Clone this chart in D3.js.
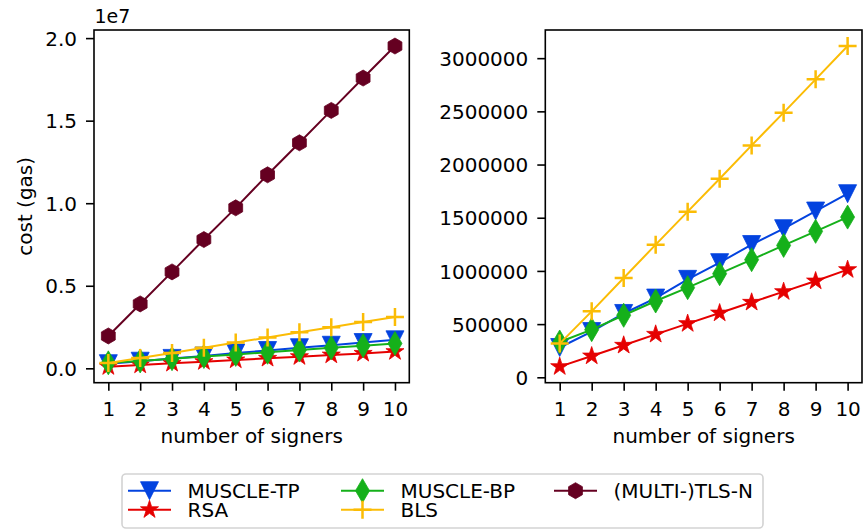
<!DOCTYPE html>
<meta charset="utf-8">
<style>
  body { margin: 0; background: #fff; }
  text { font-family: "DejaVu Sans", sans-serif; }
</style>
<svg width="865" height="529"></svg>

<script src="https://d3js.org/d3.v7.min.js"></script>
<script>

// number of signers on the x axis
var signers = [1, 2, 3, 4, 5, 6, 7, 8, 9, 10]

// gas cost per scheme
var muscleTP = [280000, 430000, 600000, 745000, 921000, 1078000, 1248000, 1397000, 1563000, 1726000]
var rsa = [100000, 200000, 301000, 404000, 505000, 604000, 705000, 805000, 905000, 1012000]
var muscleBP = [332000, 448000, 583000, 717000, 843000, 974000, 1106000, 1240000, 1372000, 1506000]
var bls = [317000, 620000, 933000, 1247000, 1557000, 1867000, 2180000, 2488000, 2801000, 3114000]
var tlsN = [1960000, 3900000, 5840000, 7800000, 9720000, 11720000, 13660000, 15620000, 17580000, 19520000]

var seriesNames = ['MUSCLE-TP', 'RSA', 'MUSCLE-BP', 'BLS', '(MULTI-)TLS-N']

var leftTicks = [0, 5000000, 10000000, 15000000, 20000000]
var rightTicks = [0, 500000, 1000000, 1500000, 2000000, 2500000, 3000000]

// marker shapes, centred on 0,0
function starPath(r) {
  var pts = []
  for (var i = 0; i < 10; i++) {
    var rr = i % 2 === 0 ? r : r * 0.382
    var a = -Math.PI / 2 + i * Math.PI / 5
    pts.push([rr * Math.cos(a), rr * Math.sin(a)])
  }
  return 'M' + pts.map(function (p) { return p[0].toFixed(2) + ',' + p[1].toFixed(2) }).join('L') + 'Z'
}

function hexPath(r) {
  var pts = []
  for (var i = 0; i < 6; i++) {
    var a = -Math.PI / 2 + i * Math.PI / 3
    pts.push([r * Math.cos(a), r * Math.sin(a)])
  }
  return 'M' + pts.map(function (p) { return p[0].toFixed(2) + ',' + p[1].toFixed(2) }).join('L') + 'Z'
}

var markers = {
  triDown: { d: 'M-9,-9L9,-9L0,9Z', fill: true },
  star: { d: starPath(9.5), fill: true },
  diamond: { d: 'M0,-12L7,0L0,12L-7,0Z', fill: true },
  plus: { d: 'M-9,0H9M0,-9V9', fill: false },
  hex: { d: hexPath(8), fill: true }
}

var series = [
  { name: seriesNames[0], values: muscleTP, color: '#0343df', marker: 'triDown' },
  { name: seriesNames[1], values: rsa, color: '#e50000', marker: 'star' },
  { name: seriesNames[2], values: muscleBP, color: '#15b01a', marker: 'diamond' },
  { name: seriesNames[3], values: bls, color: '#fbbc05', marker: 'plus' },
  { name: seriesNames[4], values: tlsN, color: '#650021', marker: 'hex' }
]

var svg = d3.select('svg')

function padded(lo, hi) {
  var r = hi - lo
  return [lo - 0.05 * r, hi + 0.05 * r]
}

function drawMarker(g, s, x, y) {
  var m = markers[s.marker]
  g.append('path')
    .attr('transform', 'translate(' + x + ',' + y + ')')
    .attr('d', m.d)
    .attr('fill', m.fill ? s.color : 'none')
    .attr('stroke', s.color)
    .attr('stroke-width', m.fill ? 0.8 : 2.5)
    .attr('stroke-linejoin', 'miter')
}

function drawPanel(box, list, yTicks, yFormat, offsetText) {
  var g = svg.append('g')

  var x = d3.scaleLinear().domain(padded(1, 10)).range([box.x0, box.x1])
  var all = [].concat.apply([], list.map(function (s) { return s.values }))
  var y = d3.scaleLinear().domain(padded(d3.min(all), d3.max(all))).range([box.y1, box.y0])

  // x axis
  var xAxis = g.append('g')
    .attr('transform', 'translate(0,' + box.y1 + ')')
    .call(d3.axisBottom(x).tickValues(signers).tickSize(8).tickFormat(d3.format('d')))
  xAxis.select('.domain').remove()
  xAxis.selectAll('line').attr('stroke-width', 1.6)
  xAxis.selectAll('text').attr('y', 33.5).attr('dy', null)
    .attr('font-size', 20).attr('font-family', 'DejaVu Sans').attr('fill', '#000')

  // y axis
  var yAxis = g.append('g')
    .attr('transform', 'translate(' + box.x0 + ',0)')
    .call(d3.axisLeft(y).tickValues(yTicks).tickSize(8).tickPadding(9).tickFormat(yFormat))
  yAxis.select('.domain').remove()
  yAxis.selectAll('line').attr('stroke-width', 1.6)
  yAxis.selectAll('text').attr('dy', '0.36em')
    .attr('font-size', 20).attr('font-family', 'DejaVu Sans').attr('fill', '#000')

  // lines and markers
  var line = d3.line()
    .x(function (d, i) { return x(signers[i]) })
    .y(function (d) { return y(d) })

  list.forEach(function (s) {
    g.append('path')
      .attr('d', line(s.values))
      .attr('fill', 'none')
      .attr('stroke', s.color)
      .attr('stroke-width', 2)
    s.values.forEach(function (v, i) {
      drawMarker(g, s, x(signers[i]), y(v))
    })
  })

  // frame
  g.append('rect')
    .attr('x', box.x0).attr('y', box.y0)
    .attr('width', box.x1 - box.x0).attr('height', box.y1 - box.y0)
    .attr('fill', 'none').attr('stroke', '#000').attr('stroke-width', 1.6)

  g.append('text')
    .attr('x', (box.x0 + box.x1) / 2).attr('y', 442.5)
    .attr('text-anchor', 'middle').attr('font-size', 20)
    .text('number of signers')

  if (offsetText) {
    g.append('text')
      .attr('x', box.x0 + 0.5).attr('y', 22.5)
      .attr('font-size', 19)
      .text(offsetText)
  }
}

var left = { x0: 94, x1: 409.3, y0: 30, y1: 382.7 }
var right = { x0: 545.3, x1: 862, y0: 30, y1: 382.7 }

drawPanel(left, series, leftTicks, function (d) { return (d / 1e7).toFixed(1) }, '1e7')
drawPanel(right, series.slice(0, 4), rightTicks, d3.format('d'), null)

svg.append('text')
  .attr('transform', 'translate(31.5,' + (left.y0 + left.y1) / 2 + ') rotate(-90)')
  .attr('text-anchor', 'middle').attr('font-size', 20)
  .text('cost (gas)')

// legend, filled column by column like matplotlib
var legend = svg.append('g')
legend.append('rect')
  .attr('x', 122).attr('y', 474).attr('width', 641).attr('height', 54)
  .attr('rx', 4).attr('fill', '#fff').attr('fill-opacity', 0.8)
  .attr('stroke', '#d3d3d3').attr('stroke-width', 1.6)

var colX = [128, 341, 554]
var rowY = [490.7, 509.7]

series.forEach(function (s, i) {
  var cx = colX[Math.floor(i / 2)]
  var cy = rowY[i % 2]
  legend.append('line')
    .attr('x1', cx).attr('x2', cx + 43).attr('y1', cy).attr('y2', cy)
    .attr('stroke', s.color).attr('stroke-width', 2)
  drawMarker(legend, s, cx + 21.5, cy)
  legend.append('text')
    .attr('x', cx + 59.5).attr('y', cy + 7)
    .attr('font-size', 20)
    .text(s.name)
})

</script>
